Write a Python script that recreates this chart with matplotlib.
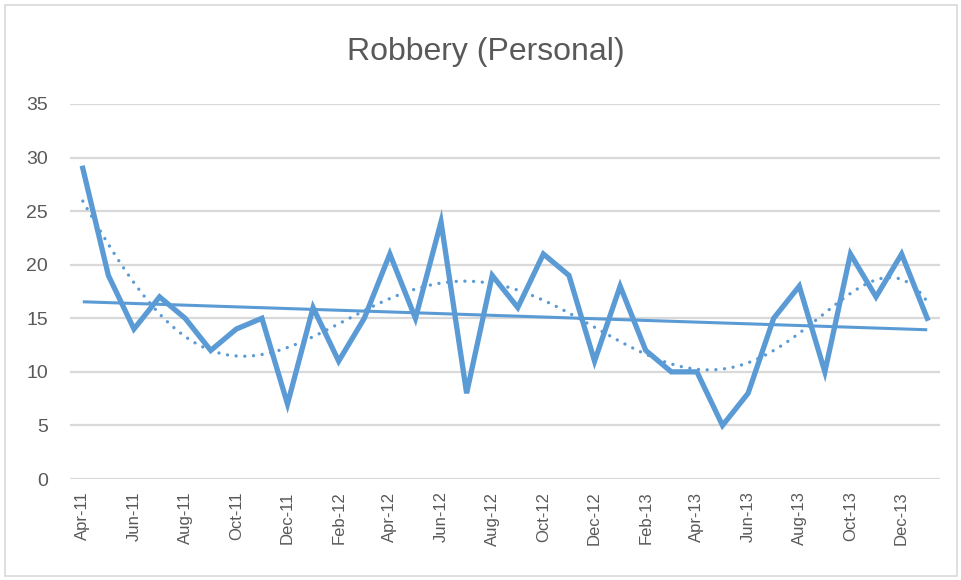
import numpy as np
import matplotlib
matplotlib.use("Agg")
import matplotlib.pyplot as plt
from matplotlib.patches import Rectangle

# monthly counts, Apr-11 .. Jan-14
months = ["Apr-11", "May-11", "Jun-11", "Jul-11", "Aug-11", "Sep-11", "Oct-11",
          "Nov-11", "Dec-11", "Jan-12", "Feb-12", "Mar-12", "Apr-12", "May-12",
          "Jun-12", "Jul-12", "Aug-12", "Sep-12", "Oct-12", "Nov-12", "Dec-12",
          "Jan-13", "Feb-13", "Mar-13", "Apr-13", "May-13", "Jun-13", "Jul-13",
          "Aug-13", "Sep-13", "Oct-13", "Nov-13", "Dec-13", "Jan-14"]
robbery = [29, 19, 14, 17, 15, 12, 14, 15, 7, 16, 11, 15, 21, 15, 24, 8, 19,
           16, 21, 19, 11, 18, 12, 10, 10, 5, 8, 15, 18, 10, 21, 17, 21, 15]
y_ticks = [0, 5, 10, 15, 20, 25, 30, 35]

blue = "#5B9BD5"
grey_txt = "#595959"
grid_col = "#D9D9D9"
font = "Liberation Sans"

x = np.arange(len(robbery))
y = np.array(robbery, dtype=float)

# excel style trendlines
lin = np.polyval(np.polyfit(x, y, 1), x)
xs = np.linspace(0, len(x) - 1, 300)
poly = np.polyval(np.polyfit(x, y, 6), xs)

fig = plt.figure(figsize=(9.62, 5.8), dpi=100)
ax = fig.add_axes([70 / 962, 1 - 479 / 580, 870 / 962, 375 / 580])

ax.plot(x, y, color=blue, lw=3.8, solid_joinstyle="miter", zorder=3)
ax.plot(x, lin, color=blue, lw=2.2, solid_capstyle="butt", zorder=4)
ax.plot(xs, poly, color=blue, lw=2.4, linestyle=(0, (0.01, 2.6)),
        dash_capstyle="round", zorder=4)

ax.set_xlim(-0.5, len(x) - 0.5)
ax.set_ylim(0, 35)
ax.set_yticks(y_ticks)
ax.set_xticks(x[::2])
ax.set_xticklabels(months[::2], rotation=90)
ax.grid(axis="y", color=grid_col, lw=1.6)
ax.set_axisbelow(True)
for s in ax.spines.values():
    s.set_visible(False)
ax.tick_params(length=0, colors=grey_txt)
ax.tick_params(axis="y", pad=16, labelsize=14)
ax.tick_params(axis="x", pad=9, labelsize=12)
for lab in ax.get_xticklabels() + ax.get_yticklabels():
    lab.set_family(font)

fig.text(486 / 962, 1 - 52 / 580, "Robbery (Personal)", ha="center", va="center",
         fontsize=23, color=grey_txt, family=font)

fig.patches.append(Rectangle((5 / 962, 4 / 580), 952 / 962, 571 / 580,
                             transform=fig.transFigure, fill=False,
                             edgecolor=grid_col, lw=1.2))

fig.savefig("out.png", dpi=100)
